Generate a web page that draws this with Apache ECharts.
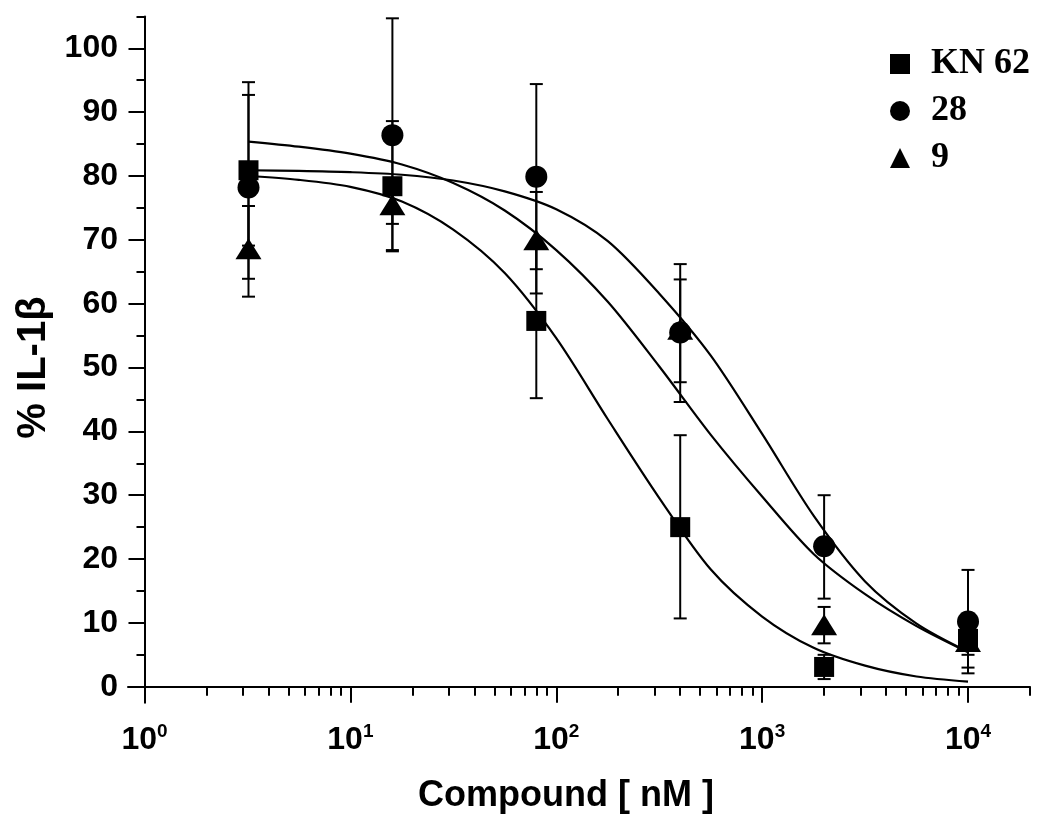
<!DOCTYPE html>
<html>
<head>
<meta charset="utf-8">
<script src="https://cdn.jsdelivr.net/npm/echarts@6.0.0/dist/echarts.min.js"></script>
<style>
html,body{margin:0;padding:0;background:#ffffff;}
#chart{width:1050px;height:820px;}
</style>
</head>
<body>
<div id="chart"></div>
<script>
// ---------------- data ----------------
const concentrations = [3.2, 16, 80, 400, 2000, 10000];           // nM

const kn62Values = [80.9, 78.4, 57.3, 25.0, 3.1, 7.5];
const kn62Low    = [69.1, 68.2, 45.2, 10.7, 1.2, 5.0];
const kn62High   = [92.7, 88.6, 69.4, 39.4, 5.0, 10.0];

const c28Values  = [78.2, 86.4, 79.9, 55.5, 22.0, 10.2];
const c28Low     = [61.1, 68.4, 65.4, 44.6, 13.8, 2.1];
const c28High    = [94.7, 104.7, 94.4, 66.2, 30.0, 18.3];

const c9Values   = [68.6, 75.5, 70.0, 56.0, 9.7, 7.1];
const c9Low      = [63.9, 72.5, 61.6, 47.7, 6.8, 3.0];
const c9High     = [75.3, 78.5, 77.5, 63.8, 12.5, 11.2];

// fitted curves: values at quarter-decade steps
const fitX     = [3.2, 5.62, 10, 17.8, 31.6, 56.2, 100, 178, 316, 562, 1000, 1778, 3162, 5623, 10000];
const fitKn62Y = [80.0, 79.4, 78.3, 76.0, 71.6, 64.8, 54.6, 41.9, 29.6, 18.4, 11.0, 6.1, 3.3, 1.6, 0.8];
const fit28Y   = [80.9, 80.8, 80.6, 80.2, 79.3, 77.6, 74.8, 69.8, 61.6, 51.9, 39.6, 26.8, 16.5, 9.9, 5.5];
const fit9Y    = [85.4, 84.6, 83.5, 81.8, 78.9, 74.6, 68.4, 60.3, 50.2, 39.5, 29.8, 20.8, 14.5, 9.5, 5.4];

// ticks
const xMajorTicks = [1, 10, 100, 1000, 10000];
const xMinorTicks = [2,3,4,5,6,7,8,9, 20,30,40,50,60,70,80,90, 200,300,400,500,600,700,800,900,
                     2000,3000,4000,5000,6000,7000,8000,9000, 20000];
const yMajorTicks = [0, 10, 20, 30, 40, 50, 60, 70, 80, 90, 100];
const yMinorTicks = [5, 15, 25, 35, 45, 55, 65, 75, 85, 95, 105];

const seriesNames = ['KN 62', '28', '9'];
const xAxisTitle = 'Compound [ nM ]';
const yAxisTitle = '% IL-1β';

// ---------------- chart ----------------
const LX = v => Math.log10(v);
const FONT = 'Liberation Sans';
const BLACK = '#000000';
const axisLineStyle = { color: BLACK, width: 2 };

const xExtentMin = -0.0801;           // axis line runs a little left of 10^0
const xExtentMax = LX(20000);

function pairs(xs, ys) { return xs.map((x, i) => [LX(x), ys[i]]); }
function errData(lo, hi) { return concentrations.map((x, i) => [LX(x), lo[i], hi[i]]); }

function renderErr(params, api) {
  const x = api.value(0), lo = api.value(1), hi = api.value(2);
  const a = api.coord([x, lo]), b = api.coord([x, hi]);
  const w = 6.5;
  const st = { stroke: BLACK, lineWidth: 2, fill: null };
  return {
    type: 'group',
    children: [
      { type: 'line', shape: { x1: a[0], y1: a[1], x2: b[0], y2: b[1] }, style: st },
      { type: 'line', shape: { x1: a[0] - w, y1: a[1], x2: a[0] + w, y2: a[1] }, style: st },
      { type: 'line', shape: { x1: b[0] - w, y1: b[1], x2: b[0] + w, y2: b[1] }, style: st }
    ]
  };
}

const chart = echarts.init(document.getElementById('chart'), null, { renderer: 'canvas' });

const xCommon = { type: 'value', min: xExtentMin, max: xExtentMax, position: 'bottom', gridIndex: 0, splitLine: { show: false } };
const yCommon = { type: 'value', min: -2.5, max: 105, position: 'left', gridIndex: 0, splitLine: { show: false } };
const curveStyle = { color: BLACK, width: 2.2 };

const option = {
  animation: false,
  backgroundColor: '#ffffff',
  grid: { left: 128, right: 20, top: 16.4, bottom: 117.3, containLabel: false, outerBoundsMode: 'none' },
  legend: {
    orient: 'vertical',
    left: 890,
    top: 46,
    padding: 0,
    itemWidth: 20,
    itemHeight: 20,
    itemGap: 11,
    selectedMode: false,
    data: [
      { name: seriesNames[0], icon: 'rect' },
      { name: seriesNames[1], icon: 'circle' },
      { name: seriesNames[2], icon: 'triangle' }
    ],
    textStyle: { fontFamily: 'Liberation Serif', fontWeight: 'bold', fontSize: 36, color: BLACK, lineHeight: 34, padding: [0, 0, 0, 16] }
  },
  xAxis: [
    Object.assign({}, xCommon, {
      axisLine: { show: true, onZero: true, onZeroAxisIndex: 0, lineStyle: axisLineStyle },
      axisTick: { show: true, customValues: xMajorTicks.map(LX), length: 16, lineStyle: axisLineStyle },
      axisLabel: {
        show: true,
        customValues: xMajorTicks.map(LX),
        margin: 20,
        formatter: v => '{b|10}{s|' + Math.round(v) + '}',
        rich: {
          b: { fontFamily: FONT, fontWeight: 'bold', fontSize: 32, color: BLACK, lineHeight: 34 },
          s: { fontFamily: FONT, fontWeight: 'bold', fontSize: 19, color: BLACK, lineHeight: 19, verticalAlign: 'top' }
        }
      },
      name: xAxisTitle,
      nameLocation: 'middle',
      nameGap: 75,
      nameTextStyle: { fontFamily: FONT, fontWeight: 'bold', fontSize: 36, color: BLACK, padding: [0, 26, 0, 0] }
    }),
    Object.assign({}, xCommon, {
      axisLine: { show: false, onZero: true, onZeroAxisIndex: 0 },
      axisTick: { show: true, customValues: xMinorTicks.map(LX), length: 9, lineStyle: axisLineStyle },
      axisLabel: { show: false }
    })
  ],
  yAxis: [
    Object.assign({}, yCommon, {
      axisLine: { show: true, onZero: true, onZeroAxisIndex: 0, lineStyle: axisLineStyle },
      axisTick: { show: true, customValues: yMajorTicks, length: 16, lineStyle: axisLineStyle },
      axisLabel: { show: true, customValues: yMajorTicks, margin: 10, fontFamily: FONT, fontWeight: 'bold', fontSize: 32, color: BLACK },
      name: yAxisTitle,
      nameLocation: 'middle',
      nameRotate: 90,
      nameGap: 74,
      nameTextStyle: { fontFamily: FONT, fontWeight: 'bold', fontSize: 40, color: BLACK, padding: [0, 16, 0, 0] }
    }),
    Object.assign({}, yCommon, {
      axisLine: { show: false, onZero: true, onZeroAxisIndex: 0 },
      axisTick: { show: true, customValues: yMinorTicks, length: 8, lineStyle: axisLineStyle },
      axisLabel: { show: false }
    })
  ],
  series: [
    // error bars
    { type: 'custom', name: 'errKN62', renderItem: renderErr, data: errData(kn62Low, kn62High), encode: { x: 0, y: [1, 2] }, z: 2, silent: true },
    { type: 'custom', name: 'err28', renderItem: renderErr, data: errData(c28Low, c28High), encode: { x: 0, y: [1, 2] }, z: 2, silent: true },
    { type: 'custom', name: 'err9', renderItem: renderErr, data: errData(c9Low, c9High), encode: { x: 0, y: [1, 2] }, z: 2, silent: true },
    // fitted curves
    { type: 'line', name: 'fitKN62', data: pairs(fitX, fitKn62Y), smooth: 0.3, showSymbol: false, symbol: 'none', lineStyle: curveStyle, z: 3, silent: true },
    { type: 'line', name: 'fit28', data: pairs(fitX, fit28Y), smooth: 0.3, showSymbol: false, symbol: 'none', lineStyle: curveStyle, z: 3, silent: true },
    { type: 'line', name: 'fit9', data: pairs(fitX, fit9Y), smooth: 0.3, showSymbol: false, symbol: 'none', lineStyle: curveStyle, z: 3, silent: true },
    // data points
    { type: 'scatter', name: seriesNames[0], data: pairs(concentrations, kn62Values), symbol: 'rect', symbolSize: 20, itemStyle: { color: BLACK, opacity: 1 }, z: 5 },
    { type: 'scatter', name: seriesNames[1], data: pairs(concentrations, c28Values), symbol: 'circle', symbolSize: 22, itemStyle: { color: BLACK, opacity: 1 }, z: 5 },
    { type: 'scatter', name: seriesNames[2], data: pairs(concentrations, c9Values), symbol: 'triangle', symbolSize: [26, 21], itemStyle: { color: BLACK, opacity: 1 }, z: 4 }
  ]
};

chart.setOption(option);
</script>
</body>
</html>
